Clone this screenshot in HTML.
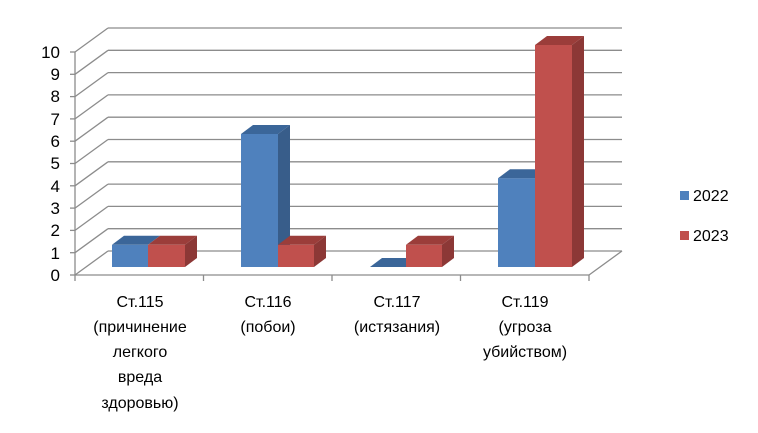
<!DOCTYPE html>
<html><head><meta charset="utf-8"><style>
body{margin:0;background:#fff;}
svg{display:block;font-family:"Liberation Sans","DejaVu Sans",sans-serif;}
</style></head><body>
<svg width="758" height="433" viewBox="0 0 758 433" xmlns="http://www.w3.org/2000/svg">
<g stroke="#8c8c8c" stroke-width="1.3" fill="none">
<!-- back gridlines -->
<g id="grid"></g>
<line x1="108" y1="28" x2="622" y2="28"/>
<line x1="108" y1="50.3" x2="622" y2="50.3"/>
<line x1="108" y1="72.6" x2="622" y2="72.6"/>
<line x1="108" y1="94.9" x2="622" y2="94.9"/>
<line x1="108" y1="117.2" x2="622" y2="117.2"/>
<line x1="108" y1="139.5" x2="622" y2="139.5"/>
<line x1="108" y1="161.8" x2="622" y2="161.8"/>
<line x1="108" y1="184.1" x2="622" y2="184.1"/>
<line x1="108" y1="206.4" x2="622" y2="206.4"/>
<line x1="108" y1="228.7" x2="622" y2="228.7"/>
<line x1="108" y1="251" x2="622" y2="251"/>
<!-- diagonals left -->
<line x1="75" y1="52" x2="108" y2="28"/>
<line x1="75" y1="74.3" x2="108" y2="50.3"/>
<line x1="75" y1="96.6" x2="108" y2="72.6"/>
<line x1="75" y1="118.9" x2="108" y2="94.9"/>
<line x1="75" y1="141.2" x2="108" y2="117.2"/>
<line x1="75" y1="163.5" x2="108" y2="139.5"/>
<line x1="75" y1="185.8" x2="108" y2="161.8"/>
<line x1="75" y1="208.1" x2="108" y2="184.1"/>
<line x1="75" y1="230.4" x2="108" y2="206.4"/>
<line x1="75" y1="252.7" x2="108" y2="228.7"/>
<line x1="75" y1="275" x2="108" y2="251"/>
<line x1="589" y1="275" x2="622" y2="251"/>
<!-- front axis -->
<line x1="75" y1="52" x2="75" y2="275"/>
<line x1="75" y1="275" x2="589" y2="275"/>
<line x1="70" y1="52" x2="75" y2="52"/><line x1="70" y1="74.3" x2="75" y2="74.3"/><line x1="70" y1="96.6" x2="75" y2="96.6"/><line x1="70" y1="118.9" x2="75" y2="118.9"/><line x1="70" y1="141.2" x2="75" y2="141.2"/><line x1="70" y1="163.5" x2="75" y2="163.5"/><line x1="70" y1="185.8" x2="75" y2="185.8"/><line x1="70" y1="208.1" x2="75" y2="208.1"/><line x1="70" y1="230.4" x2="75" y2="230.4"/><line x1="70" y1="252.7" x2="75" y2="252.7"/><line x1="70" y1="275" x2="75" y2="275"/>
<line x1="75" y1="275" x2="75" y2="281"/><line x1="203.5" y1="275" x2="203.5" y2="281"/><line x1="332" y1="275" x2="332" y2="281"/><line x1="460.5" y1="275" x2="460.5" y2="281"/><line x1="589" y1="275" x2="589" y2="281"/>
</g>
<!-- bars: front x, width 37, bottom 267, per unit 22.2, depth 12,9 -->
<g>
<!-- group1 -->
<rect x="112" y="244.8" width="36" height="22.2" fill="#4F81BD"/>
<polygon points="112,244.8 124,235.8 160,235.8 148,244.8" fill="#3B6699"/>
<rect x="148" y="244.8" width="37" height="22.2" fill="#C0504D"/>
<polygon points="148,244.8 160,235.8 197,235.8 185,244.8" fill="#9B3D3A"/>
<polygon points="185,244.8 197,235.8 197,258 185,267" fill="#8C3836"/>
<!-- group2 -->
<polygon points="278,134 290,125 290,258 278,267" fill="#385D8A"/>
<rect x="241" y="134" width="37" height="133" fill="#4F81BD"/>
<polygon points="241,134 253,125 290,125 278,134" fill="#3B6699"/>
<rect x="278" y="244.8" width="36" height="22.2" fill="#C0504D"/>
<polygon points="278,244.8 290,235.8 326,235.8 314,244.8" fill="#9B3D3A"/>
<polygon points="314,244.8 326,235.8 326,258 314,267" fill="#8C3836"/>
<!-- group3 -->
<polygon points="370,267 382,258 418,258 406,267" fill="#3B6699"/>
<rect x="406" y="244.8" width="36" height="22.2" fill="#C0504D"/>
<polygon points="406,244.8 418,235.8 454,235.8 442,244.8" fill="#9B3D3A"/>
<polygon points="442,244.8 454,235.8 454,258 442,267" fill="#8C3836"/>
<!-- group4 -->
<rect x="498" y="178.2" width="37" height="88.8" fill="#4F81BD"/>
<polygon points="498,178.2 510,169.2 547,169.2 535,178.2" fill="#3B6699"/>
<rect x="535" y="45" width="37" height="222" fill="#C0504D"/>
<polygon points="535,45 547,36 584,36 572,45" fill="#9B3D3A"/>
<polygon points="572,45 584,36 584,258 572,267" fill="#8C3836"/>
</g>
<g font-size="17" fill="#000" text-anchor="end">
<text x="60" y="58">10</text><text x="60" y="80">9</text><text x="60" y="102">8</text><text x="60" y="125">7</text><text x="60" y="147">6</text><text x="60" y="169">5</text><text x="60" y="192">4</text><text x="60" y="214">3</text><text x="60" y="236">2</text><text x="60" y="259">1</text><text x="60" y="281">0</text>
</g>
<g font-size="16" fill="#000" text-anchor="middle">
<text x="140" y="307">Ст.115</text><text x="140" y="332">(причинение</text><text x="140" y="357">легкого</text><text x="140" y="382">вреда</text><text x="140" y="408">здоровью)</text>
<text x="268" y="307">Ст.116</text><text x="268" y="332">(побои)</text>
<text x="397" y="307">Ст.117</text><text x="397" y="332">(истязания)</text>
<text x="525" y="307">Ст.119</text><text x="525" y="332">(угроза</text><text x="525" y="357">убийством)</text>
</g>
<rect x="680" y="191" width="9" height="9" fill="#4F81BD"/>
<rect x="680" y="231" width="9" height="9" fill="#C0504D"/>
<g font-size="16" fill="#000"><text x="693" y="201">2022</text><text x="693" y="241">2023</text></g>
</svg>
</body></html>
